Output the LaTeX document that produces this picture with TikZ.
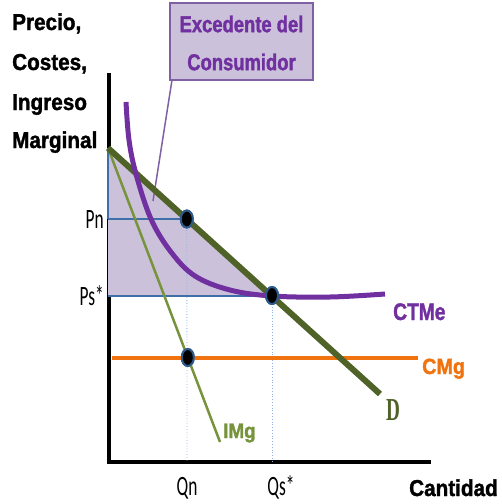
\documentclass[tikz,border=0pt]{standalone}
\usepackage{fontspec}
\setmainfont{Liberation Sans}
\newfontfamily\condA[FakeStretch=0.9, FakeBold=1.5]{Liberation Sans Bold}
\newfontfamily\condB[FakeStretch=0.8, FakeBold=1.5]{Liberation Sans Bold}
\newfontfamily\lblf[FakeStretch=0.62]{Carlito}
\newfontfamily\serf[FakeStretch=0.6]{Liberation Serif}
\usetikzlibrary{shapes.geometric}
\definecolor{purpC}{HTML}{7030A0}
\definecolor{lav}{HTML}{CCC1DA}
\definecolor{lavB}{HTML}{7F60A2}
\definecolor{blueL}{HTML}{3F6FA8}
\definecolor{greenD}{HTML}{4F6228}
\definecolor{greenI}{HTML}{77933C}
\definecolor{orangeC}{HTML}{F0730F}
\definecolor{dotB}{HTML}{2E5A8A}
\definecolor{dotL}{HTML}{8DB3E2}
\tikzset{
  axisline/.style={line width=4pt},
  priceline/.style={blueL, line width=2pt},
  guideline/.style={dotL, line width=0.8pt, dotted},
  eqdot/.style={ellipse, fill=black, draw=dotB, line width=2pt, minimum width=12pt, minimum height=17pt, inner sep=0pt},
  titletext/.style={font=\condA\fontsize{23}{23}\selectfont, anchor=base west, inner sep=0pt},
  ticktext/.style={font=\lblf\fontsize{28}{28}\selectfont, inner sep=0pt},
}
\begin{document}
\begin{tikzpicture}[x=1pt,y=-1pt]
\useasboundingbox (0,0) rectangle (502,504);
% key points
\coordinate (Otop) at (109,73);
\coordinate (O) at (109,462);
\coordinate (Xend) at (431,462);
\coordinate (Dtop) at (108,148);
\coordinate (Dend) at (380,394);
\coordinate (Iend) at (220,442);
\coordinate (Pnaxis) at (108,219);
\coordinate (Psaxis) at (108,295.5);
\coordinate (Cstart) at (112,357.5);
\coordinate (Cend) at (418,357.5);
\coordinate (Qnfoot) at (187,462);
\coordinate (Qsfoot) at (272,462);
\coordinate (Ptr) at (153,201);
% axes
\draw[axisline] (Otop) -- (O) -- (Xend);
% shaded consumer surplus
\fill[lav] (Dtop) -- (272,295.5) -- (Psaxis) -- cycle;
\draw[priceline] (Dtop) -- (Pnaxis);
% guide lines
\node[eqdot] (Pdot) at (186.8,219) {};
\node[eqdot] (Sdot) at (272,295.5) {};
\node[eqdot] (Mdot) at (187.8,357.5) {};
\draw[guideline] (Pdot.center) -- (Qnfoot);
\draw[guideline] (Sdot.center) -- (Qsfoot);
\draw[priceline] (Pnaxis) -- (Pdot.center);
\draw[priceline] (Psaxis) -- (Sdot.center);
% callout pointer
\node[draw=lavB, fill=lav, line width=2pt, minimum width=143pt, minimum height=77pt, inner sep=0pt] (Box) at (241.5,41.5) {};
\draw[lavB, line width=1.5pt] (172,80) -- (Ptr);
% curves
\draw[greenI, line width=2.5pt] (Dtop) -- (Iend);
\draw[orangeC, line width=4pt] (Cstart) -- (Cend);
\draw[greenD, line width=6pt] (Dtop) -- (Dend);
\draw[purpC, line width=5pt] plot[smooth, tension=0.6] coordinates {(126,102) (129,140) (136,174) (151,219) (171,252) (195,276) (230,290) (272,296) (330,297) (385,294)};
% dots on top
\node[eqdot] at (Pdot) {};
\node[eqdot] at (Sdot) {};
\node[eqdot] at (Mdot) {};
% callout text
\node[font=\condB\fontsize{23}{23}\selectfont, text=purpC, align=center, inner sep=0pt] (BoxT1) at (241.5,24) {Excedente del};
\node[font=\condB\fontsize{23}{23}\selectfont, text=purpC, align=center, inner sep=0pt] (BoxT2) at (241.5,62) {Consumidor};
% axis titles
\node[titletext] (T1) at (12,30) {Precio,};
\node[titletext] (T2) at (12,70) {Costes,};
\node[titletext] (T3) at (12,110) {Ingreso};
\node[titletext] (T4) at (12,148) {Marginal};
\node[font=\condA\fontsize{23}{23}\selectfont, anchor=base west, inner sep=0pt] (Xlab) at (409,496) {Cantidad};
% tick labels
\node[ticktext, anchor=base east] (Pn) at (104,228) {Pn};
\node[ticktext, anchor=base east] (Ps) at (104,305) {Ps*};
\node[ticktext, anchor=base] (Qn) at (187,495) {Qn};
\node[ticktext, anchor=base] (Qs) at (281,495) {Qs*};
% curve labels
\node[font=\condB\fontsize{24}{24}\selectfont, text=purpC, anchor=base west, inner sep=0pt] (CTMe) at (393,320) {CTMe};
\node[font=\condA\fontsize{22}{22}\selectfont, text=orangeC, anchor=base west, inner sep=0pt] (CMg) at (422,374) {CMg};
\node[font=\condA\fontsize{21}{21}\selectfont, text=greenI, anchor=base west, inner sep=0pt] (IMg) at (223,438) {IMg};
\node[font=\serf\bfseries\fontsize{32}{32}\selectfont, text=greenD, anchor=base west, inner sep=0pt] (Dlab) at (386,420) {D};
\end{tikzpicture}
\end{document}
